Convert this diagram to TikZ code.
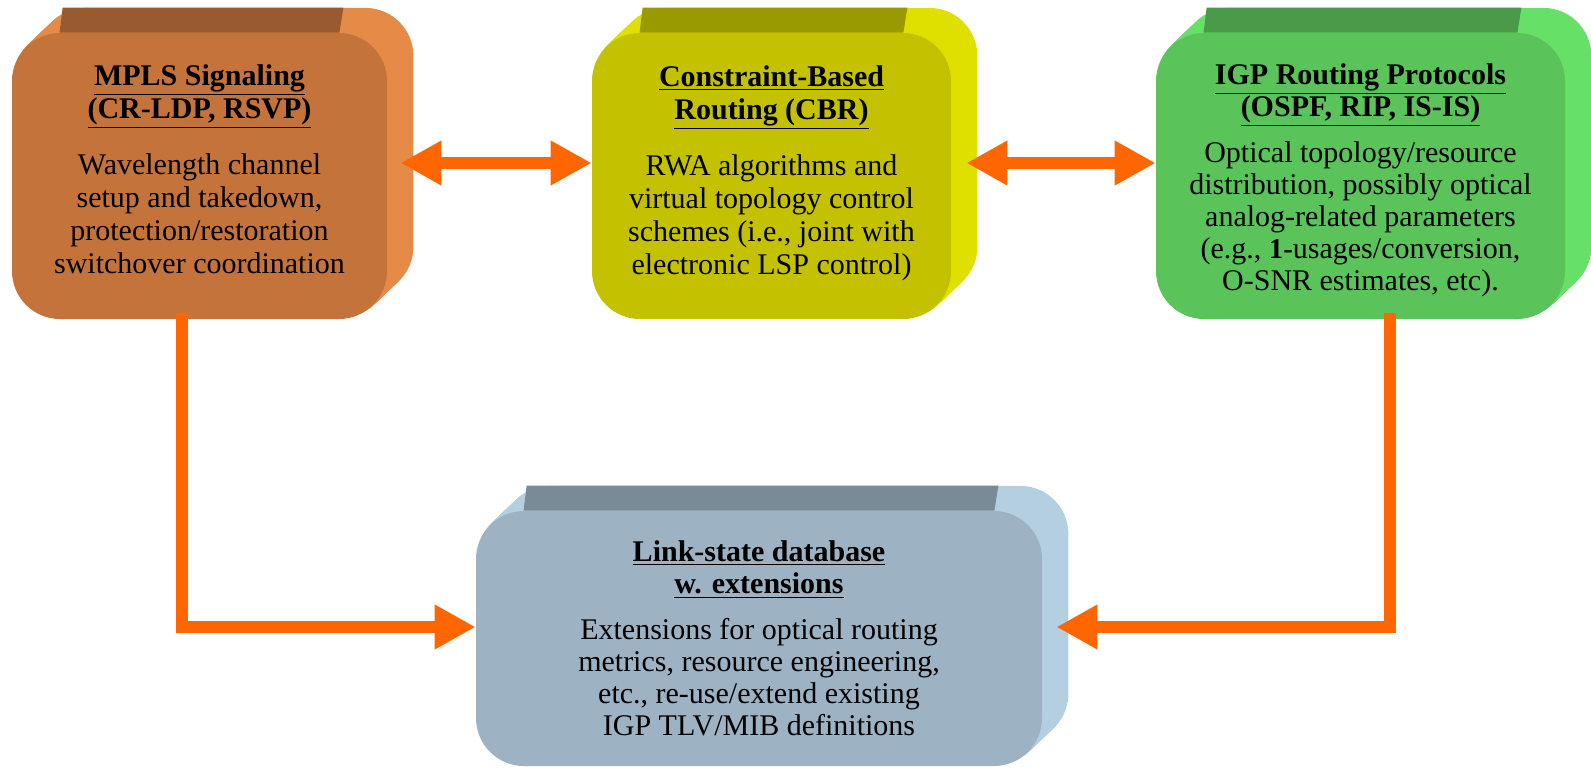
\documentclass[tikz,border=0pt]{standalone}
\usepackage{fontspec}
\setmainfont{Liberation Serif}
\usetikzlibrary{arrows.meta, positioning, calc, backgrounds}
\definecolor{mplsfront}{RGB}{196,115,58}
\definecolor{mplstop}{RGB}{154,90,48}
\definecolor{mplsside}{RGB}{230,138,72}
\definecolor{cbrfront}{RGB}{196,194,0}
\definecolor{cbrtop}{RGB}{153,153,0}
\definecolor{cbrside}{RGB}{224,224,0}
\definecolor{igpfront}{RGB}{90,195,90}
\definecolor{igptop}{RGB}{74,154,74}
\definecolor{igpside}{RGB}{102,224,102}
\definecolor{lsdbfront}{RGB}{157,179,196}
\definecolor{lsdbtop}{RGB}{122,139,152}
\definecolor{lsdbside}{RGB}{180,207,224}
\definecolor{flowcolor}{RGB}{255,102,0}
\newcommand{\boxtitle}[1]{\textbf{\underline{#1}}}

\begin{document}
\begin{tikzpicture}[
    x=0.5pt, y=-0.5pt,
    box/.style={rectangle, rounded corners=24pt, inner sep=0pt, align=center, font=\fontsize{15}{16.5}\selectfont},
    tightbox/.style={box, font=\fontsize{15}{16}\selectfont},
    flow/.style={draw=flowcolor, line width=6pt, -{Triangle[length=20.5pt, width=21pt]}},
    dflow/.style={flow, {Triangle[length=20.5pt, width=21pt]}-{Triangle[length=20.5pt, width=21pt]}}
]
\useasboundingbox (0,0) rectangle (1591,768);

\node[box, fill=mplsfront, minimum width=187.5pt, minimum height=143pt] (mpls) at (199.5,176)
    {\boxtitle{MPLS Signaling}\\\boxtitle{(CR-LDP, RSVP)}\\[11.5pt]Wavelength channel\\setup and takedown,\\protection/restoration\\switchover coordination\rule[-7pt]{0pt}{7pt}};
\node[box, fill=cbrfront, minimum width=179.5pt, minimum height=143pt] (cbr) at (771.5,176)
    {\boxtitle{Constraint-Based}\\\boxtitle{Routing (CBR)}\\[11.5pt]RWA algorithms and\\virtual topology control\\schemes (i.e., joint with\\electronic LSP control)\rule[-6pt]{0pt}{6pt}};
\node[tightbox, fill=igpfront, minimum width=204.5pt, minimum height=143pt] (igp) at (1360.5,176)
    {\rule{0pt}{14.5pt}\boxtitle{IGP Routing Protocols}\\\boxtitle{(OSPF, RIP, IS-IS)}\\[7pt]Optical topology/resource\\distribution, possibly optical\\analog-related parameters\\(e.g., {\bfseries\Large 1-}usages/conversion,\\O-SNR estimates, etc).};
\node[tightbox, fill=lsdbfront, minimum width=283pt, minimum height=127.5pt] (lsdb) at (759,638.5)
    {\boxtitle{Link-state database}\\\boxtitle{w. extensions}\\[7pt]Extensions for optical routing\\metrics, resource engineering,\\etc., re-use/extend existing\\IGP TLV/MIB definitions};

% extruded backs
\begin{scope}[on background layer]
\foreach \n/\sc/\tc in {mpls/mplsside/mplstop, cbr/cbrside/cbrtop, igp/igpside/igptop, lsdb/lsdbside/lsdbtop} {
    \foreach \k in {1,...,13}
        \fill[\sc, rounded corners=24pt] ($(\n.south west)+(2*\k,-1.9*\k)$) rectangle ($(\n.north east)+(2*\k,-1.9*\k)$);
    \fill[\tc] ($(\n.north west)+(48,0)$) -- ($(\n.north east)+(-48,0)$) -- ($(\n.north east)+(-44,-25)$) -- ($(\n.north west)+(51,-25)$) -- cycle;
}
\end{scope}

\draw[dflow] ($(mpls.east)+(13,-13)$) -- ($(cbr.west)+(0,-13)$);
\draw[dflow] ($(cbr.east)+(15,-13)$) -- ($(igp.west)+(0,-13)$);
\draw[flow] ($(mpls.south)+(-17.5,-6)$) |- ($(lsdb.west)+(0,-11.5)$);
\draw[flow] ($(igp.south)+(29.5,-6)$) |- ($(lsdb.east)+(14,-11.5)$);
\end{tikzpicture}
\end{document}
